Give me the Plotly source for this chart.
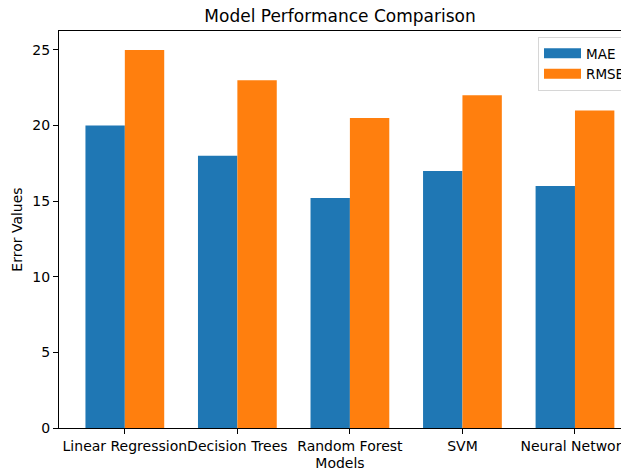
import plotly.graph_objects as go

models = ["Linear Regression", "Decision Trees", "Random Forest", "SVM", "Neural Network"]
mae = [20, 18, 15.2, 17, 16]
rmse = [25, 23, 20.5, 22, 21]
y_ticks = [0, 5, 10, 15, 20, 25]
series_names = ["MAE", "RMSE"]
colors = ["#1f77b4", "#ff7f0e"]

FONT = "DejaVu Sans"
fig = go.Figure()
fig.add_trace(go.Bar(x=models, y=mae, name=series_names[0], width=0.35, offset=-0.35,
                     marker=dict(color=colors[0], line=dict(width=0)), showlegend=False))
fig.add_trace(go.Bar(x=models, y=rmse, name=series_names[1], width=0.35, offset=0,
                     marker=dict(color=colors[1], line=dict(width=0)), showlegend=False))
# legend entries drawn as wide rectangles (matplotlib-style patches)
for nm, c in zip(series_names, colors):
    fig.add_trace(go.Scatter(x=[None], y=[None], mode="lines", name=nm,
                             line=dict(color=c, width=10), showlegend=True))

fig.update_layout(
    width=621, height=471,
    margin=dict(l=59, r=0, t=31, b=43, autoexpand=False),
    paper_bgcolor="white", plot_bgcolor="white",
    barmode="overlay",
    font=dict(family=FONT, size=14, color="black"),
    title=dict(text="Model Performance Comparison", x=0.5, xref="paper", xanchor="center",
               y=1 - 16 / 471, yanchor="middle", font=dict(size=17, family=FONT, color="black")),
    legend=dict(x=(538 - 59) / 562, y=(428 - 37) / 397, xanchor="left", yanchor="top",
                bordercolor="#d6d6d6", borderwidth=1, bgcolor="rgba(255,255,255,0.8)",
                font=dict(size=13.5, family=FONT), itemwidth=37, tracegroupgap=0),
    showlegend=True,
)
fig.update_xaxes(
    range=[-0.585, 4.409], showline=True, linecolor="black", linewidth=1, mirror=True,
    ticks="outside", ticklen=5, tickcolor="black", showgrid=False, tickangle=0, automargin=False,
    title=dict(text="Models", standoff=8, font=dict(size=14, family=FONT)),
    tickfont=dict(size=14, family=FONT),
)
fig.update_yaxes(
    range=[0, 26.25], tickvals=y_ticks, showline=True, linecolor="black", linewidth=1, mirror=True,
    ticks="outside", ticklen=5, tickcolor="black", showgrid=False, zeroline=False, automargin=False,
    title=dict(text="Error Values", standoff=6, font=dict(size=14, family=FONT)),
    tickfont=dict(size=14, family=FONT),
)
fig.write_html("out.html", config={"displayModeBar": False},
               post_script="document.body.style.margin='0px';document.body.style.overflow='hidden';")
